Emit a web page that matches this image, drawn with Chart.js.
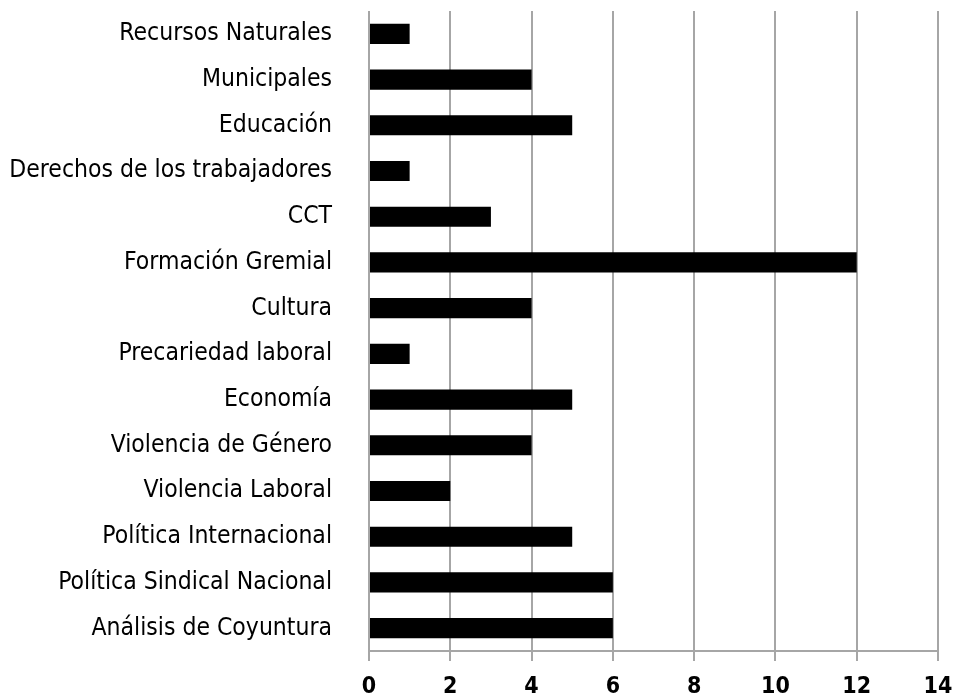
<!DOCTYPE html>
<html>
<head>
<meta charset="utf-8">
<script src="https://cdn.jsdelivr.net/npm/chart.js@4"></script>
<style>
  html, body { margin: 0; padding: 0; background: #fff; }
  #wrap { width: 961px; height: 697px; position: relative; }
</style>
</head>
<body>
<div id="wrap"><canvas id="chart"></canvas></div>
<script>
const categories = [
  "Recursos Naturales",
  "Municipales",
  "Educación",
  "Derechos de los trabajadores",
  "CCT",
  "Formación Gremial",
  "Cultura",
  "Precariedad laboral",
  "Economía",
  "Violencia de Género",
  "Violencia Laboral",
  "Política Internacional",
  "Política Sindical Nacional",
  "Análisis de Coyuntura"
];
const values = [1, 4, 5, 1, 3, 12, 4, 1, 5, 4, 2, 5, 6, 6];
const xTicks = [0, 2, 4, 6, 8, 10, 12, 14];

const fontFamily = '"Liberation Sans Narrow", "DejaVu Sans Condensed", sans-serif';
const gridColor = "#a6a6a6";

const ctx = document.getElementById("chart").getContext("2d");
new Chart(ctx, {
  type: "bar",
  data: {
    labels: categories,
    datasets: [{
      data: values,
      backgroundColor: "#000000",
      borderWidth: 0,
      barPercentage: 0.44,
      categoryPercentage: 1.0
    }]
  },
  options: {
    indexAxis: "y",
    responsive: true,
    maintainAspectRatio: false,
    animation: false,
    layout: { padding: { top: 11, right: 23, bottom: 0, left: 0 } },
    plugins: { legend: { display: false }, tooltip: { enabled: false } },
    scales: {
      x: {
        min: xTicks[0],
        max: xTicks[xTicks.length - 1],
        afterBuildTicks: (scale) => {
          scale.ticks = xTicks.map((v) => ({ value: v }));
        },
        afterFit: (scale) => {
          scale.height = 46;
          scale.paddingLeft = 0;
          scale.paddingRight = 0;
        },
        grid: { color: gridColor, lineWidth: 2, tickLength: 10 },
        border: { color: gridColor, width: 2 },
        ticks: {
          color: "#000",
          padding: 12,
          maxRotation: 0,
          font: { family: fontFamily, size: 23, weight: "bold" }
        }
      },
      y: {
        afterFit: (scale) => {
          scale.width = 369;
          scale.paddingTop = 0;
          scale.paddingBottom = 0;
        },
        grid: { display: false },
        border: { display: false },
        ticks: {
          color: "#000",
          padding: 29,
          autoSkip: false,
          font: { family: fontFamily, size: 24.5 }
        }
      }
    }
  }
});
</script>
</body>
</html>
